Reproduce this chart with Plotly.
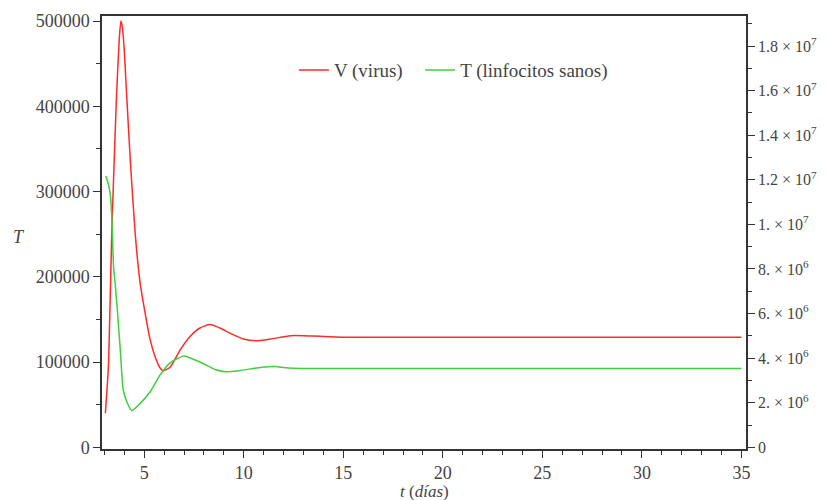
import plotly.graph_objects as go

# V (virus) - left axis units
t_v = [3.05, 3.2, 3.27, 3.37, 3.44, 3.6, 3.75, 3.83, 3.9, 4.0, 4.08, 4.3, 4.55, 4.8, 5.05, 5.3,
       5.55, 5.8, 5.96, 6.3, 6.8, 7.3, 7.8, 8.3, 8.8, 9.3, 9.98, 10.6, 11.34, 12.35, 13.5,
       15, 20, 25, 30, 35]
v_vals = [40000, 94000, 153000, 250000, 300000, 407000, 480000, 500000, 493000, 465000, 430000,
          337000, 250000, 192000, 157000, 126000, 106000, 93000, 90000, 94000, 114000, 130000,
          140000, 144000, 140000, 134000, 127000, 125000, 127000, 131000, 130500,
          129300, 129300, 129300, 129300, 129300]

# T (linfocitos sanos) - right axis units
t_t = [3.07, 3.2, 3.3, 3.38, 3.46, 3.54, 3.65, 3.8, 3.95, 4.15, 4.38, 4.8, 5.3, 5.8, 6.3,
       6.95, 7.05, 7.8, 8.6, 9.1, 9.77, 10.9, 11.6, 12.1, 13, 15, 20, 25, 30, 35]
t_vals = [12.17e6, 11.8e6, 11.3e6, 10.2e6, 8.1e6, 7.35e6, 6.16e6, 4.36e6, 2.56e6, 1.99e6, 1.645e6,
          1.97e6, 2.49e6, 3.25e6, 3.79e6, 4.09e6, 4.09e6, 3.83e6, 3.48e6, 3.39e6, 3.44e6,
          3.59e6, 3.62e6, 3.57e6, 3.54e6, 3.54e6, 3.54e6, 3.54e6, 3.54e6, 3.54e6]

left_ticks = [0, 100000, 200000, 300000, 400000, 500000]
left_labels = ["0", "100000", "200000", "300000", "400000", "500000"]
right_ticks = [0, 2e6, 4e6, 6e6, 8e6, 1e7, 1.2e7, 1.4e7, 1.6e7, 1.8e7]
right_labels = ["0", "2. \u00d7 10<sup>6</sup>", "4. \u00d7 10<sup>6</sup>", "6. \u00d7 10<sup>6</sup>",
                "8. \u00d7 10<sup>6</sup>", "1. \u00d7 10<sup>7</sup>", "1.2 \u00d7 10<sup>7</sup>",
                "1.4 \u00d7 10<sup>7</sup>", "1.6 \u00d7 10<sup>7</sup>", "1.8 \u00d7 10<sup>7</sup>"]
x_ticks = [5, 10, 15, 20, 25, 30, 35]

FONT = "Liberation Serif"
TXT = "#444444"
AX = "#333333"
FS = 18

fig = go.Figure()
fig.add_trace(go.Scatter(x=t_v, y=v_vals, mode="lines", name="V (virus)", legend="legend",
                         line=dict(color="#ff2a2a", width=1.5, shape="spline", smoothing=0.6)))
fig.add_trace(go.Scatter(x=t_t, y=t_vals, mode="lines", name="T (linfocitos sanos)", yaxis="y2",
                         legend="legend2",
                         line=dict(color="#3fcf3f", width=1.5, shape="spline", smoothing=0.6)))

leg_common = dict(orientation="h", y=0.875, xanchor="left", yanchor="middle",
                  bgcolor="rgba(0,0,0,0)", font=dict(family=FONT, size=19, color=TXT),
                  itemwidth=30)

fig.update_layout(
    width=829, height=500,
    margin=dict(l=94, r=91, t=8, b=59, autoexpand=False),
    paper_bgcolor="white", plot_bgcolor="white",
    font=dict(family=FONT, size=FS, color=TXT),
    showlegend=True,
    legend=dict(x=0.298, **leg_common),
    legend2=dict(x=0.494, **leg_common),
    xaxis=dict(range=[2.88, 35.23], tickvals=x_ticks, ticks="outside", ticklen=7, tickcolor=AX,
               automargin=False,
               showline=True, linecolor=AX, linewidth=1.5, mirror=True, showgrid=False,
               zeroline=False, tickfont=dict(family=FONT, size=FS, color=TXT),
               minor=dict(dtick=1, tick0=0, ticks="outside", ticklen=4, tickcolor=AX, showgrid=False)),
    yaxis=dict(range=[-1900, 505900], tickvals=left_ticks, ticktext=left_labels, ticks="outside",
               automargin=False,
               ticklen=7, tickcolor=AX, showline=True, linecolor=AX, linewidth=1.5,
               showgrid=False, zeroline=False, tickfont=dict(family=FONT, size=FS, color=TXT),
               minor=dict(dtick=50000, tick0=0, ticks="outside", ticklen=4, tickcolor=AX, showgrid=False)),
    yaxis2=dict(range=[-76000, 19.35e6], overlaying="y", side="right", tickvals=right_ticks,
                automargin=False,
                ticktext=right_labels, ticks="outside", ticklen=7, tickcolor=AX, showline=True,
                linecolor=AX, linewidth=1.5, showgrid=False, zeroline=False,
                tickfont=dict(family=FONT, size=16, color=TXT),
                minor=dict(dtick=1e6, tick0=0, ticks="outside", ticklen=4, tickcolor=AX, showgrid=False)),
    annotations=[
        dict(text="<i>T</i>", xref="paper", yref="paper", x=-0.142, y=0.49,
             showarrow=False, font=dict(family=FONT, size=FS, color=TXT)),
        dict(text="<i>t</i> (<i>días</i>)", xref="paper", yref="paper", x=0.5, y=-0.098,
             xanchor="center", yanchor="middle", showarrow=False,
             font=dict(family=FONT, size=17, color=TXT)),
    ],
)

fig.write_html("out.html")
